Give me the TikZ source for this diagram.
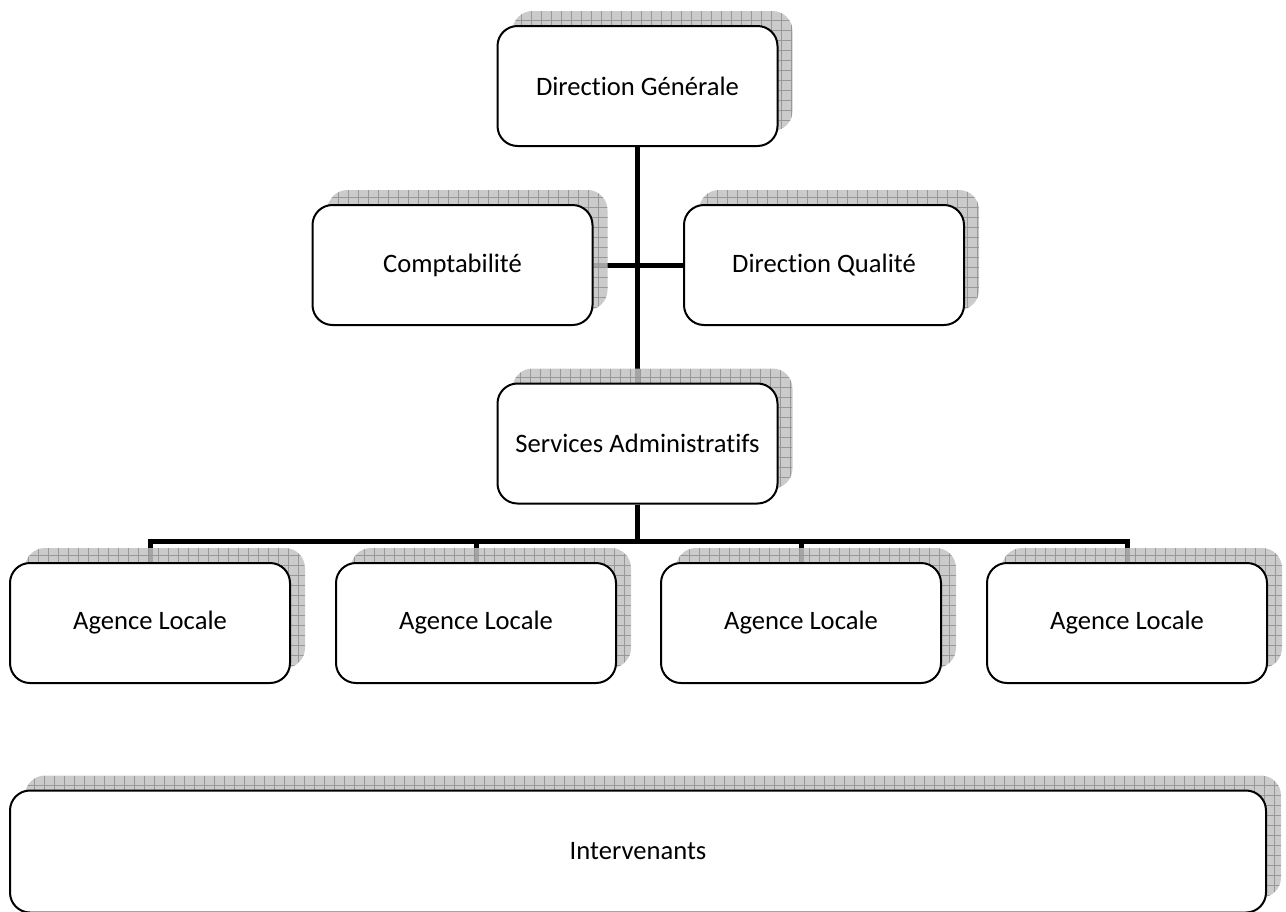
\documentclass[tikz,border=0pt]{standalone}
\usepackage{fontspec}
\setmainfont[Ligatures=NoCommon]{Carlito}
\usetikzlibrary{backgrounds}

\tikzset{
  orgbox/.style={draw=black, line width=1pt, fill=white, rounded corners=10pt,
    minimum width=140pt, minimum height=60pt, inner sep=0pt,
    font=\fontsize{13.3}{15}\selectfont,
    preaction={draw=none, fill=gray!48, fill opacity=.85,
      path picture={\draw[gray!85, line width=.35pt, opacity=.9]
        (path picture bounding box.south west) grid[step=5pt]
        (path picture bounding box.north east);},
      transform canvas={shift={(7.5pt,7.5pt)}}}},
  link/.style={line width=2.5pt, line join=miter}
}

\begin{document}
\begin{tikzpicture}[x=0.5pt, y=-0.5pt]
            \useasboundingbox (0,0) rectangle (1286,911);
            \node[orgbox] (dg) at (637.5,86) {Direction Générale};
            \node[orgbox] (compta) at (452.5,265) {Comptabilité};
            \node[orgbox] (dq) at (824,265) {Direction Qualité};
            \node[orgbox] (sa) at (637.5,443.5) {Services Administratifs};
            \node[orgbox] (ag1) at (150,623) {Agence Locale};
            \node[orgbox] (ag2) at (476,623) {Agence Locale};
            \node[orgbox] (ag3) at (801,623) {Agence Locale};
            \node[orgbox] (ag4) at (1127,623) {Agence Locale};
            \node[orgbox, minimum width=628pt, minimum height=61pt] (interv) at (638,851.5) {Intervenants};
            \coordinate (bus) at (637.5,541);
            \begin{scope}[on background layer]
                \draw[link] (dg.south) -- (sa.north);
                \draw[link] (compta.east) -- (dq.west);
                \foreach \ag in {ag1,ag2,ag3,ag4}
                    \draw[link] (sa.south) -- (bus) -| (\ag.north);
            \end{scope}
        \end{tikzpicture}
\end{document}
